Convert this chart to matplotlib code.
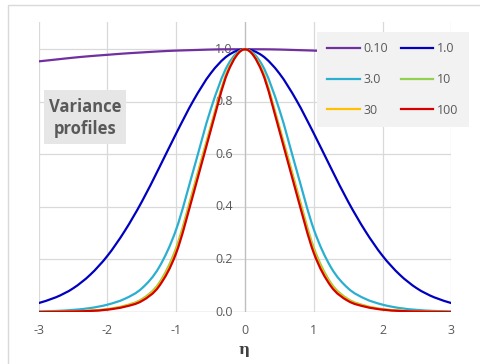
import numpy as np
import matplotlib
matplotlib.use("Agg")
import matplotlib.pyplot as plt
from matplotlib.path import Path
from matplotlib.patches import PathPatch, Rectangle
from matplotlib.lines import Line2D

plt.rcParams['font.family'] = ['Open Sans', 'DejaVu Sans']

# eta grid (-3 .. 3, step 0.25)
eta = [-3.0, -2.75, -2.5, -2.25, -2.0, -1.75, -1.5, -1.25, -1.0, -0.75, -0.5, -0.25,
       0.0, 0.25, 0.5, 0.75, 1.0, 1.25, 1.5, 1.75, 2.0, 2.25, 2.5, 2.75, 3.0]

labels = ["0.10", "1.0", "3.0", "10", "30", "100"]
colors = ["#7030A0", "#0000C0", "#2AAFD0", "#92D050", "#FFC000", "#D40000"]

v_010 = [0.954, 0.961, 0.968, 0.974, 0.979, 0.984, 0.988, 0.992, 0.995, 0.997, 0.999, 1.000,
         1.000, 1.000, 0.999, 0.997, 0.995, 0.992, 0.988, 0.984, 0.979, 0.974, 0.968, 0.961, 0.954]
v_1 = [0.034, 0.056, 0.090, 0.142, 0.214, 0.308, 0.420, 0.548, 0.680, 0.805, 0.908, 0.976,
       1.000, 0.976, 0.908, 0.805, 0.680, 0.548, 0.420, 0.308, 0.214, 0.142, 0.090, 0.056, 0.034]
v_3 = [0.002, 0.004, 0.008, 0.015, 0.028, 0.050, 0.090, 0.170, 0.315, 0.540, 0.770, 0.940,
       1.000, 0.940, 0.770, 0.540, 0.315, 0.170, 0.090, 0.050, 0.028, 0.015, 0.008, 0.004, 0.002]
v_10 = [0.000, 0.001, 0.002, 0.005, 0.011, 0.024, 0.049, 0.110, 0.245, 0.470, 0.705, 0.920,
        1.000, 0.920, 0.705, 0.470, 0.245, 0.110, 0.049, 0.024, 0.011, 0.005, 0.002, 0.001, 0.000]
v_30 = [0.000, 0.001, 0.002, 0.005, 0.010, 0.022, 0.045, 0.103, 0.233, 0.460, 0.697, 0.917,
        1.000, 0.917, 0.697, 0.460, 0.233, 0.103, 0.045, 0.022, 0.010, 0.005, 0.002, 0.001, 0.000]
v_100 = [0.000, 0.001, 0.002, 0.004, 0.009, 0.020, 0.042, 0.098, 0.225, 0.450, 0.690, 0.913,
         1.000, 0.913, 0.690, 0.450, 0.225, 0.098, 0.042, 0.020, 0.009, 0.004, 0.002, 0.001, 0.000]
series = [v_010, v_1, v_3, v_10, v_30, v_100]

x_ticks = [-3, -2, -1, 0, 1, 2, 3]
y_ticks = [0.0, 0.2, 0.4, 0.6, 0.8, 1.0]


def smooth_path(xs, ys):
    """Smoothed polyline (Catmull-Rom segments as cubic Bezier curves)."""
    p = np.column_stack([xs, ys]).astype(float)
    n = len(p)
    verts = [p[0]]
    codes = [Path.MOVETO]
    for i in range(n - 1):
        p0 = p[i - 1] if i > 0 else p[i]
        p1, p2 = p[i], p[i + 1]
        p3 = p[i + 2] if i + 2 < n else p[i + 1]
        c1 = p1 + (p2 - p0) / 6.0
        c2 = p2 - (p3 - p1) / 6.0
        verts += [c1, c2, p2]
        codes += [Path.CURVE4] * 3
    return Path(verts, codes)


W, H = 480, 364
fig = plt.figure(figsize=(W / 100, H / 100), dpi=100)

# chart-area border
fig.add_artist(Rectangle((8 / W, -0.05), 1.0, (H - 5) / H + 0.05, transform=fig.transFigure,
                         fill=False, ec="#d9d9d9", lw=1.0))

left, right, bottom, top = 38.7, 451.3, 312.0, 21.7
ax = fig.add_axes([left / W, (H - bottom) / H, (right - left) / W, (bottom - top) / H])
ax.set_xlim(-3, 3)
ax.set_ylim(0, 1.105)
for s in ax.spines.values():
    s.set_visible(False)
ax.set_xticks(x_ticks)
ax.set_xticklabels([str(t) for t in x_ticks])
ax.set_yticks(y_ticks)
ax.set_yticklabels([])
ax.tick_params(length=0, labelsize=9, labelcolor="#595959", pad=9)
ax.grid(True, color="#d9d9d9", lw=0.9)
ax.set_axisbelow(True)
ax.axvline(0, color="#bfbfbf", lw=0.9, zorder=1)
ax.axhline(0, color="#bfbfbf", lw=0.9, zorder=1)

for t in y_ticks:
    ax.text(-0.18, t, f"{t:.1f}", ha="right", va="center", fontsize=9, color="#595959", zorder=1.5)

handles = []
for vals, c, lab in zip(series, colors, labels):
    patch = PathPatch(smooth_path(eta, vals), fill=False, ec=c, lw=1.6,
                      capstyle="round", joinstyle="round", zorder=3)
    ax.add_patch(patch)
    handles.append(Line2D([], [], color=c, lw=1.6, label=lab))

# legend laid out row by row: (0.10, 1.0), (3.0, 10), (30, 100)
order = [0, 2, 4, 1, 3, 5]
leg = ax.legend(handles=[handles[i] for i in order], ncol=2, loc="upper left",
                bbox_to_anchor=(316.7 / W, 1 - 31.7 / H), bbox_transform=fig.transFigure,
                frameon=True, fancybox=False, borderaxespad=0, borderpad=0.85,
                handlelength=2.6, handletextpad=0.3, columnspacing=1.0, labelspacing=1.42,
                fontsize=9, labelcolor="#595959")
leg.get_frame().set_facecolor("#f2f2f2")
leg.get_frame().set_edgecolor("none")
leg.get_frame().set_alpha(1)
leg.set_zorder(5)

# title box
fig.add_artist(Rectangle((44 / W, 1 - 144 / H), 82 / W, 54 / H, transform=fig.transFigure,
                         fc="#e7e6e6", ec="none", zorder=4))
fig.text(85 / W, 1 - 118 / H, "Variance\nprofiles", ha="center", va="center",
         fontsize=12, fontweight="bold", color="#595959", linespacing=1.3, zorder=5)

fig.text(244 / W, 1 - 350 / H, "η", ha="center", va="center", family="DejaVu Serif",
         fontweight="bold", fontsize=11, color="#404040")

fig.savefig("out.png", dpi=100)
